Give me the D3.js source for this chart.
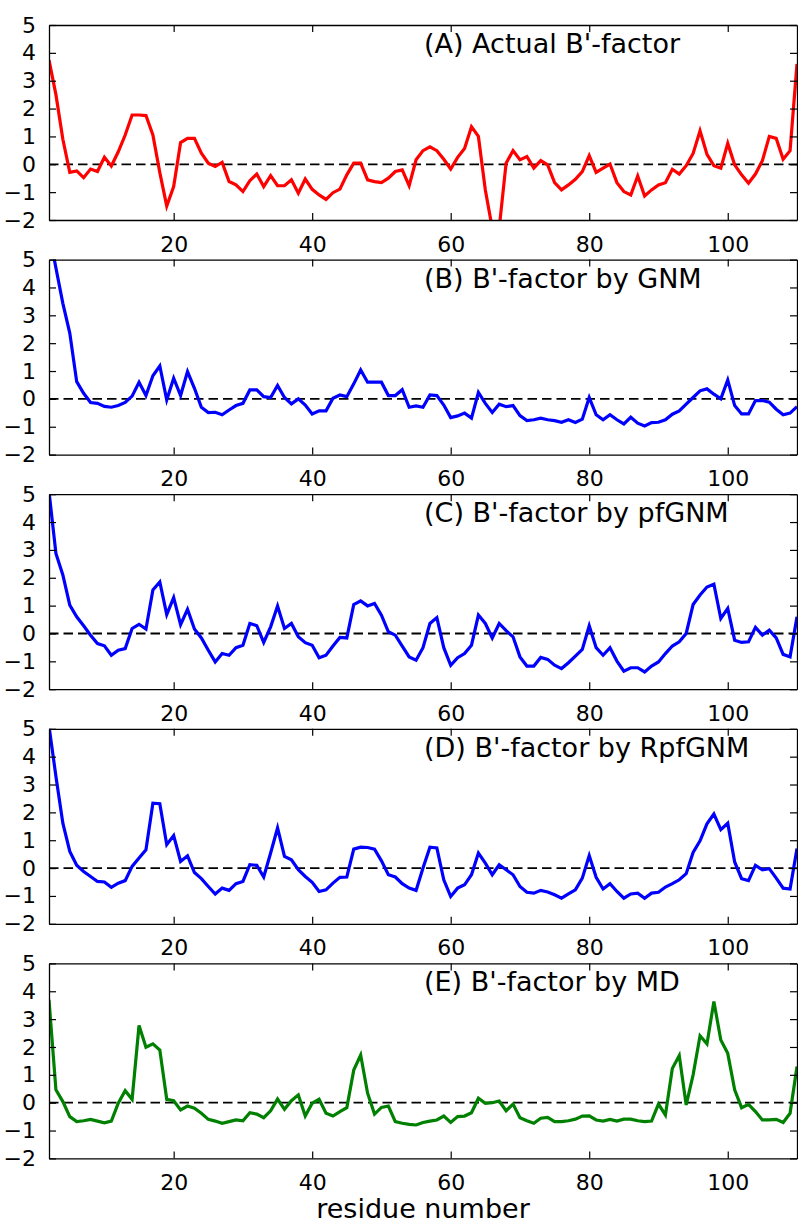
<!DOCTYPE html>
<html>
<head>
<meta charset="utf-8">
<script src="https://cdn.jsdelivr.net/npm/d3@7"></script>
<style>
    body { margin: 0; background: #fff; }
    text { font-family: "DejaVu Sans", sans-serif; fill: #000; }
</style>
</head>
<body>
<svg id="chart"></svg>
<script>

// residue numbers shown on the x axis
var residues = d3.range(2, 111);
var xTicks = [20, 40, 60, 80, 100];
var yTicks = [-2, -1, 0, 1, 2, 3, 4, 5];

var titles = ["(A) Actual B'-factor", "(B) B'-factor by GNM", "(C) B'-factor by pfGNM",
    "(D) B'-factor by RpfGNM", "(E) B'-factor by MD"];
var colors = ["#ff0000", "#0000ff", "#0000ff", "#0000ff", "#008000"];

var actual = [3.74, 2.5, 0.9, -0.29, -0.24, -0.48, -0.17, -0.26, 0.25, -0.06,
    0.45, 1.05, 1.77, 1.77, 1.75, 1.05, -0.3, -1.5, -0.8, 0.78,
    0.93, 0.93, 0.4, 0.04, -0.08, 0.07, -0.62, -0.74, -0.98, -0.59,
    -0.35, -0.8, -0.41, -0.77, -0.77, -0.56, -1.04, -0.53, -0.9, -1.1,
    -1.26, -1.02, -0.89, -0.38, 0.04, 0.04, -0.56, -0.62, -0.66, -0.5,
    -0.26, -0.2, -0.77, 0.16, 0.49, 0.63, 0.49, 0.18, -0.17, 0.25,
    0.57, 1.35, 1.0, -0.92, -2.3, -2.3, 0.04, 0.49, 0.16, 0.28,
    -0.14, 0.13, -0.02, -0.66, -0.92, -0.74, -0.54, -0.26, 0.31, -0.29,
    -0.14, 0.01, -0.66, -0.98, -1.1, -0.42, -1.14, -0.92, -0.74, -0.66,
    -0.18, -0.35, -0.05, 0.39, 1.2, 0.36, -0.05, -0.14, 0.75, -0.02,
    -0.38, -0.68, -0.35, 0.13, 1.0, 0.93, 0.18, 0.49, 3.6];

var gnm = [6.0, 4.7, 3.43, 2.36, 0.62, 0.2, -0.13, -0.16, -0.27, -0.3,
    -0.24, -0.13, 0.1, 0.6, 0.12, 0.83, 1.18, -0.04, 0.74, 0.12,
    0.98, 0.38, -0.3, -0.49, -0.48, -0.57, -0.4, -0.24, -0.16, 0.32,
    0.32, 0.08, 0.05, 0.48, 0.05, -0.18, 0, -0.22, -0.54, -0.43,
    -0.43, 0.02, 0.14, 0.08, 0.54, 1.04, 0.6, 0.6, 0.6, 0.12,
    0.12, 0.33, -0.3, -0.25, -0.3, 0.14, 0.12, -0.22, -0.67, -0.61,
    -0.51, -0.69, 0.23, -0.16, -0.49, -0.19, -0.28, -0.24, -0.6, -0.78,
    -0.75, -0.69, -0.75, -0.78, -0.84, -0.75, -0.85, -0.73, 0.05, -0.57,
    -0.75, -0.57, -0.75, -0.9, -0.66, -0.87, -0.97, -0.85, -0.84, -0.75,
    -0.55, -0.43, -0.19, 0.05, 0.29, 0.36, 0.17, 0, 0.68, -0.24,
    -0.54, -0.54, -0.06, -0.06, -0.12, -0.37, -0.57, -0.51, -0.28];

var pfgnm = [5.1, 2.87, 2.1, 1.02, 0.6, 0.28, -0.06, -0.36, -0.44, -0.78,
    -0.6, -0.54, 0.18, 0.33, 0.16, 1.56, 1.85, 0.68, 1.29, 0.32,
    0.87, 0.16, -0.16, -0.6, -1.02, -0.72, -0.78, -0.51, -0.42, 0.36,
    0.28, -0.32, 0.24, 0.99, 0.18, 0.36, -0.12, -0.33, -0.42, -0.87,
    -0.78, -0.45, -0.14, -0.16, 1.04, 1.17, 0.99, 1.08, 0.66, 0.06,
    -0.06, -0.45, -0.84, -0.96, -0.51, 0.36, 0.57, -0.51, -1.14, -0.87,
    -0.72, -0.42, 0.66, 0.36, -0.16, 0.36, 0.1, -0.12, -0.84, -1.17,
    -1.17, -0.86, -0.93, -1.14, -1.26, -1.05, -0.81, -0.57, 0.28, -0.51,
    -0.78, -0.51, -0.99, -1.35, -1.23, -1.23, -1.38, -1.17, -1.02, -0.72,
    -0.45, -0.3, 0, 1.04, 1.38, 1.67, 1.77, 0.54, 0.9, -0.24,
    -0.32, -0.3, 0.22, -0.06, 0.12, -0.16, -0.75, -0.84, 0.6];

var rpfgnm = [5.1, 3.29, 1.61, 0.6, 0.1, -0.12, -0.3, -0.48, -0.5, -0.69,
    -0.54, -0.45, 0.06, 0.36, 0.66, 2.33, 2.31, 0.84, 1.17, 0.24,
    0.44, -0.16, -0.38, -0.66, -0.93, -0.72, -0.8, -0.56, -0.48, 0.12,
    0.1, -0.32, 0.54, 1.44, 0.42, 0.3, -0.06, -0.3, -0.51, -0.84,
    -0.78, -0.54, -0.33, -0.32, 0.68, 0.75, 0.74, 0.68, 0.26, -0.24,
    -0.32, -0.56, -0.72, -0.8, 0, 0.75, 0.72, -0.42, -1.02, -0.72,
    -0.6, -0.24, 0.54, 0.18, -0.24, 0.12, -0.06, -0.24, -0.66, -0.87,
    -0.9, -0.8, -0.86, -0.96, -1.08, -0.93, -0.78, -0.36, 0.45, -0.33,
    -0.75, -0.56, -0.84, -1.08, -0.93, -0.9, -1.08, -0.9, -0.87, -0.68,
    -0.56, -0.42, -0.2, 0.56, 0.98, 1.59, 1.94, 1.38, 1.61, 0.22,
    -0.38, -0.45, 0.1, -0.06, -0.02, -0.36, -0.72, -0.75, 0.7];

var md = [3.69, 0.46, 0.04, -0.5, -0.68, -0.65, -0.6, -0.66, -0.72, -0.66,
    -0.02, 0.43, 0.12, 2.77, 1.99, 2.11, 1.89, 0.12, 0.07, -0.26,
    -0.12, -0.2, -0.38, -0.6, -0.66, -0.74, -0.68, -0.62, -0.65, -0.36,
    -0.41, -0.54, -0.29, 0.13, -0.24, 0.07, 0.28, -0.48, -0.02, 0.12,
    -0.38, -0.48, -0.32, -0.18, 1.17, 1.71, 0.34, -0.41, -0.17, -0.12,
    -0.68, -0.74, -0.78, -0.8, -0.71, -0.66, -0.62, -0.48, -0.71, -0.5,
    -0.48, -0.36, 0.16, -0.02, 0, 0.06, -0.29, -0.05, -0.54, -0.65,
    -0.74, -0.56, -0.53, -0.68, -0.68, -0.65, -0.59, -0.48, -0.47, -0.62,
    -0.66, -0.6, -0.66, -0.59, -0.59, -0.65, -0.68, -0.66, -0.05, -0.44,
    1.23, 1.69, -0.08, 1.0, 2.4, 2.11, 3.63, 2.25, 1.77, 0.46,
    -0.18, -0.06, -0.32, -0.62, -0.62, -0.6, -0.71, -0.38, 1.3];

var series = [actual, gnm, pfgnm, rpfgnm, md];

var svgWidth = 798;
var svgHeight = 1219;
var margin = {left: 49, right: 1, top: 25};
var panelHeight = 195;
var panelStep = 234.6;

var svg = d3.select('#chart')
    .attr('width', svgWidth)
    .attr('height', svgHeight);

var xscale = d3.scaleLinear()
    .domain([2, 110])
    .range([margin.left, svgWidth - margin.right]);

series.forEach(function (values, i) {

    var top = margin.top + i * panelStep;

    var yscale = d3.scaleLinear()
        .domain([-2, 5])
        .range([top + panelHeight, top]);

    var g = svg.append('g').attr('class', 'panel');

    g.append('clipPath')
        .attr('id', 'clip' + i)
        .append('rect')
        .attr('x', xscale(2))
        .attr('y', top)
        .attr('width', xscale(110) - xscale(2))
        .attr('height', panelHeight);

    // zero reference line
    g.append('line')
        .attr('x1', xscale(2))
        .attr('x2', xscale(110))
        .attr('y1', yscale(0))
        .attr('y2', yscale(0))
        .attr('stroke', '#000')
        .attr('stroke-width', 1.8)
        .attr('stroke-dasharray', '9.5,5');

    var line = d3.line()
        .x(function (d, j) { return xscale(residues[j]); })
        .y(function (d) { return yscale(d); });

    g.append('path')
        .datum(values)
        .attr('clip-path', 'url(#clip' + i + ')')
        .attr('d', line)
        .attr('fill', 'none')
        .attr('stroke', colors[i])
        .attr('stroke-width', 3.2)
        .attr('stroke-linejoin', 'miter');

    // axes, ticks pointing inward on all four sides
    var left = g.append('g')
        .attr('transform', 'translate(' + xscale(2) + ',0)')
        .call(d3.axisLeft(yscale).tickValues(yTicks).tickSizeInner(-7).tickSizeOuter(0)
            .tickPadding(13).tickFormat(function (d) { return d < 0 ? '\u2212' + Math.abs(d) : d; }));
    var right = g.append('g')
        .attr('transform', 'translate(' + xscale(110) + ',0)')
        .call(d3.axisRight(yscale).tickValues(yTicks).tickSizeInner(-7).tickSizeOuter(0).tickFormat(''));
    var bottom = g.append('g')
        .attr('transform', 'translate(0,' + yscale(-2) + ')')
        .call(d3.axisBottom(xscale).tickValues(xTicks).tickSizeInner(-7).tickSizeOuter(0).tickPadding(16));
    var topAxis = g.append('g')
        .attr('transform', 'translate(0,' + yscale(5) + ')')
        .call(d3.axisTop(xscale).tickValues(xTicks).tickSizeInner(-7).tickSizeOuter(0).tickFormat(''));

    [left, right, bottom, topAxis].forEach(function (a) {
        a.selectAll('.domain').attr('stroke', '#000').attr('stroke-width', 1.3);
        a.selectAll('.tick line').attr('stroke', '#000').attr('stroke-width', 1.2);
        a.selectAll('.tick text')
            .style('font-family', '"DejaVu Sans", sans-serif')
            .style('font-size', '22px')
            .attr('fill', '#000');
    });

    g.append('text')
        .attr('x', 424)
        .attr('y', top + 28)
        .style('font-size', '27px')
        .text(titles[i]);
});

svg.append('text')
    .attr('x', (xscale(2) + xscale(110)) / 2)
    .attr('y', 1218)
    .attr('text-anchor', 'middle')
    .style('font-size', '27px')
    .text('residue number');

</script>
</body>
</html>
